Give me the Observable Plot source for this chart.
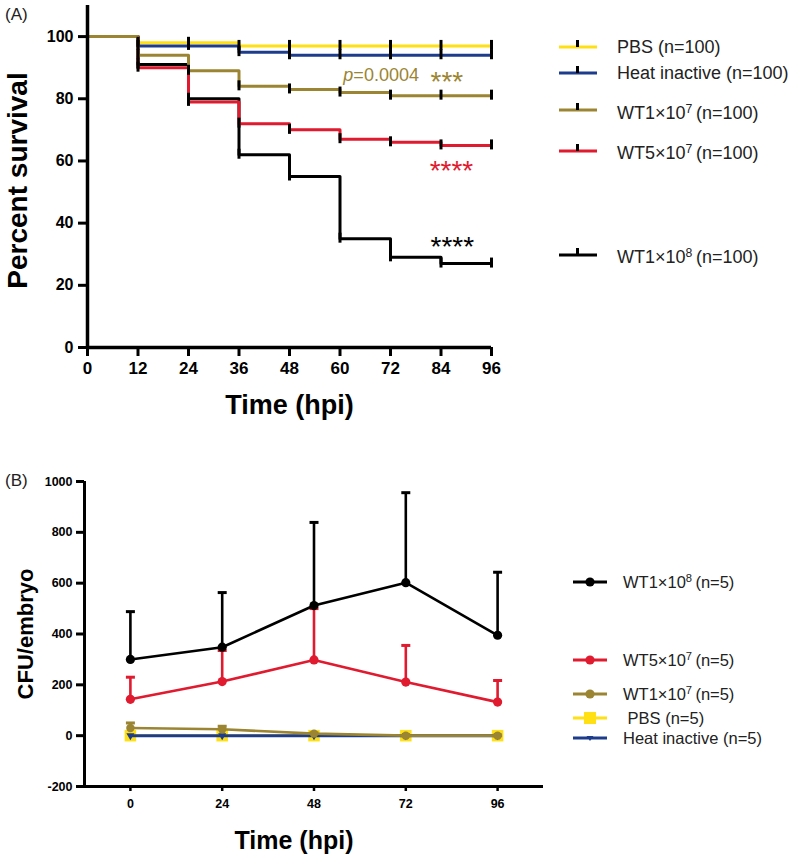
<!DOCTYPE html>
<html><head><meta charset="utf-8">
<script src="https://cdn.jsdelivr.net/npm/d3@7"></script>
<script src="https://cdn.jsdelivr.net/npm/@observablehq/plot@0.6"></script>
<style>
body{margin:0;background:#fff;}
#root{position:relative;width:794px;height:859px;overflow:hidden;font-family:"Liberation Sans",Arial,sans-serif;}
.txt{position:absolute;white-space:nowrap;color:#222;}
.sup{font-size:0.68em;position:relative;top:-0.5em;}
</style></head><body><div id="root"></div>
<script>
// ---------- Panel A data: Kaplan-Meier survival (percent) ----------
const hoursA = [0, 12, 24, 36, 48, 60, 72, 84, 96];
const seriesA = ["PBS", "Heat inactive", "WT1e8", "WT5e7", "WT1e7"];   // drawing order
const pbsA    = [100, 98, 98, 97, 97, 97, 97, 97, 97];
const heatA   = [100, 97, 97, 95, 94, 94, 94, 94, 94];
const wt1e8A  = [100, 91, 80, 62, 55, 35, 29, 27, 27];
const wt5e7A  = [100, 90, 79, 72, 70, 67, 66, 65, 65];
const wt1e7A  = [100, 94, 89, 84, 83, 82, 81, 81, 81];
const yTicksA = [0, 20, 40, 60, 80, 100];
const xDomainA = [0, 96];
const yDomainA = [0, 110];

// ---------- Panel B data: CFU/embryo mean and upper SD ----------
const hoursB = [0, 24, 48, 72, 96];
const seriesB = ["PBS", "Heat inactive", "WT1e7", "WT5e7", "WT1e8"];   // drawing order
const pbsB     = [0, 0, 0, 0, 0];
const pbsSdB   = [0, 0, 0, 0, 0];
const heatB    = [0, 0, 0, 0, 0];
const heatSdB  = [0, 0, 0, 0, 0];
const wt1e7B   = [30, 25, 8, 0, 0];
const wt1e7SdB = [20, 12, 3, 0, 0];
const wt5e7B   = [143, 213, 298, 211, 132];
const wt5e7SdB = [87, 122, 202, 144, 85];
const wt1e8B   = [300, 348, 512, 602, 395];
const wt1e8SdB = [188, 215, 327, 354, 248];
const yTicksB = [-200, 0, 200, 400, 600, 800, 1000];
const xDomainB = [-12, 108];
const yDomainB = [-200, 1000];

// ---------- Legend labels ----------
const legendKeysA = ["PBS", "Heat inactive", "WT1e7", "WT5e7", "WT1e8"];
const legendLabelsA = ["PBS (n=100)", "Heat inactive (n=100)", "WT1×10<span class='sup'>7</span>&thinsp;(n=100)", "WT5×10<span class='sup'>7</span>&thinsp;(n=100)", "WT1×10<span class='sup'>8</span>&thinsp;(n=100)"];
const legendKeysB = ["WT1e8", "WT5e7", "WT1e7", "PBS", "Heat inactive"];
const legendLabelsB = ["WT1×10<span class='sup'>8</span>&thinsp;(n=5)", "WT5×10<span class='sup'>7</span>&thinsp;(n=5)", "WT1×10<span class='sup'>7</span>&thinsp;(n=5)", "&nbsp;PBS (n=5)", "Heat inactive (n=5)"];

// ---------- styles ----------
const colors = {"PBS": "#FFE014", "Heat inactive": "#1E3C8C", "WT1e7": "#9B8532", "WT5e7": "#E01A2F", "WT1e8": "#000000"};
const FONT = "'Liberation Sans', Arial, sans-serif";

const valuesA = {"PBS": pbsA, "Heat inactive": heatA, "WT1e8": wt1e8A, "WT5e7": wt5e7A, "WT1e7": wt1e7A};
const rowsA = seriesA.flatMap(s => hoursA.map((t, i) => ({series: s, t, v: valuesA[s][i]})));

const valuesB = {"PBS": [pbsB, pbsSdB], "Heat inactive": [heatB, heatSdB], "WT1e7": [wt1e7B, wt1e7SdB], "WT5e7": [wt5e7B, wt5e7SdB], "WT1e8": [wt1e8B, wt1e8SdB]};
const rowsB = seriesB.flatMap(s => hoursB.map((t, i) => ({series: s, t, m: valuesB[s][0][i], hi: valuesB[s][0][i] + valuesB[s][1][i]})));

const vbar = {draw(ctx, size) { const h = Math.sqrt(size / Math.PI); ctx.moveTo(0, -h); ctx.lineTo(0, h); }};
const hbar = {draw(ctx, size) { const w = Math.sqrt(size / Math.PI); ctx.moveTo(-w, 0); ctx.lineTo(w, 0); }};

const root = document.getElementById("root");
function place(el, left, top) { el.style.position = "absolute"; el.style.left = left + "px"; el.style.top = top + "px"; root.appendChild(el); return el; }

// ---------- Panel letters (behind plots) ----------
const la = document.createElement("div"); la.className = "txt"; la.style.fontSize = "17px"; la.textContent = "(A)"; place(la, 5, 5);
const lb = document.createElement("div"); lb.className = "txt"; lb.style.fontSize = "17px"; lb.textContent = "(B)"; place(lb, 5, 471);

// ---------- Panel A ----------
const colorScale = {domain: Object.keys(colors), range: Object.values(colors)};
const plotA = Plot.plot({
  width: 540, height: 440,
  marginLeft: 87, marginRight: 49, marginTop: 5, marginBottom: 93,
  style: {fontFamily: FONT, background: "transparent", overflow: "visible", color: "#000"},
  x: {domain: xDomainA},
  y: {domain: yDomainA},
  color: colorScale,
  marks: [
    Plot.line(rowsA, {x: "t", y: "v", z: "series", stroke: "series", curve: "step-after", strokeWidth: 3}),
    Plot.dot(rowsA.filter(d => d.t > 0), {x: "t", y: "v", symbol: vbar, r: 5, dy: -1, stroke: "#000", fill: "none", strokeWidth: 3}),
    Plot.ruleX([xDomainA[0]], {y1: yDomainA[0], y2: yDomainA[1], strokeWidth: 3.5}),
    Plot.ruleY([yDomainA[0]], {x1: xDomainA[0], x2: xDomainA[1], strokeWidth: 3.5}),
    Plot.axisY({ticks: yTicksA, tickSize: 9, tickPadding: 5, fontSize: 16, fontWeight: "bold", strokeWidth: 3, label: null}),
    Plot.axisX({ticks: hoursA, tickSize: 9, tickPadding: 5, fontSize: 17, fontWeight: "bold", strokeWidth: 3, label: null}),
    Plot.text(["Percent survival"], {text: d => d, frameAnchor: "left", textAnchor: "middle", dx: -69, dy: 4, rotate: -90, fontSize: 28, fontWeight: "bold"}),
    Plot.text(["Time (hpi)"], {text: d => d, frameAnchor: "bottom", dy: 66, fontSize: 27, fontWeight: "bold"}),
    Plot.text(["p"], {text: d => d, x: 60.8, y: 87.5, textAnchor: "start", fontStyle: "italic", fontSize: 18, fill: colors["WT1e7"]}),
    Plot.text(["=0.0004"], {text: d => d, x: 60.8, y: 87.5, dx: 10, textAnchor: "start", fontSize: 18, fill: colors["WT1e7"]}),
    Plot.text(["***"], {text: d => d, x: 81.5, y: 87.5, dy: 7, textAnchor: "start", fontSize: 28, fill: colors["WT1e7"]}),
    Plot.text(["****"], {text: d => d, x: 81.3, y: 59, dy: 7, textAnchor: "start", fontSize: 28, fill: colors["WT5e7"]}),
    Plot.text(["****"], {text: d => d, x: 81.5, y: 34.5, dy: 7, textAnchor: "start", fontSize: 28, fill: colors["WT1e8"]})
  ]
});
place(plotA, 0, 0);

// ---------- Panel B ----------
const symbolsB = {"PBS": "square", "Heat inactive": "triangle", "WT1e7": "circle", "WT5e7": "circle", "WT1e8": "circle"};
const radiusB = {"PBS": 6.5, "Heat inactive": 3, "WT1e7": 4.2, "WT5e7": 4.6, "WT1e8": 4.6};
const marksB = [];
for (const s of seriesB) {
  const d = rowsB.filter(r => r.series === s);
  const c = colors[s];
  const sw = s === "Heat inactive" ? 3 : 2.6;
  if (s !== "PBS" && s !== "Heat inactive") {
    marksB.push(Plot.ruleX(d, {x: "t", y1: "m", y2: "hi", stroke: c, strokeWidth: 2.6}));
    marksB.push(Plot.dot(d, {x: "t", y: "hi", symbol: hbar, r: 4.5, stroke: c, fill: "none", strokeWidth: 3}));
  }
  marksB.push(Plot.line(d, {x: "t", y: "m", stroke: c, strokeWidth: sw}));
  marksB.push(Plot.dot(d, {x: "t", y: "m", symbol: symbolsB[s], r: radiusB[s], fill: c, stroke: "none", rotate: s === "Heat inactive" ? 180 : 0}));
}
const plotB = Plot.plot({
  width: 560, height: 409,
  marginLeft: 84, marginRight: 17, marginTop: 31, marginBottom: 73,
  style: {fontFamily: FONT, background: "transparent", overflow: "visible", color: "#000"},
  x: {domain: xDomainB},
  y: {domain: yDomainB},
  marks: [
    ...marksB,
    Plot.ruleX([xDomainB[0]], {y1: yDomainB[0], y2: yDomainB[1], strokeWidth: 3}),
    Plot.ruleY([yDomainB[0]], {x1: xDomainB[0], x2: xDomainB[1], strokeWidth: 3}),
    Plot.axisY({ticks: yTicksB, tickFormat: d => String(d), tickSize: 8, tickPadding: 4, fontSize: 12.5, fontWeight: "bold", strokeWidth: 3, label: null}),
    Plot.axisX({ticks: hoursB, tickFormat: d => String(d), tickSize: 5, tickPadding: 8, fontSize: 12.5, fontWeight: "bold", strokeWidth: 2.5, label: null}),
    Plot.text(["CFU/embryo"], {text: d => d, frameAnchor: "left", textAnchor: "middle", dx: -59, rotate: -90, fontSize: 22, fontWeight: "bold"}),
    Plot.text(["Time (hpi)"], {text: d => d, frameAnchor: "bottom", dx: -20, dy: 62, fontSize: 25, fontWeight: "bold"})
  ]
});
place(plotB, 0, 450);

// ---------- Legends ----------
const NS = "http://www.w3.org/2000/svg";
function svgEl(tag, attrs) { const e = document.createElementNS(NS, tag); for (const k in attrs) e.setAttribute(k, attrs[k]); return e; }

const legendLineYA = [46.7, 73, 110, 150.7, 255];
const legendTextYA = [46.7, 73, 113, 153, 257];
legendKeysA.forEach((k, i) => {
  const s = svgEl("svg", {width: 40, height: 20});
  s.appendChild(svgEl("line", {x1: 1, x2: 39, y1: 10, y2: 10, stroke: colors[k], "stroke-width": 3}));
  s.appendChild(svgEl("line", {x1: 19.5, x2: 19.5, y1: 3, y2: 10, stroke: "#000", "stroke-width": 3}));
  place(s, 558, legendLineYA[i] - 10);
  const t = document.createElement("div"); t.className = "txt"; t.style.fontSize = "18px"; t.style.lineHeight = "20px";
  t.innerHTML = legendLabelsA[i];
  place(t, 617, legendTextYA[i] - 10);
});

const legendYB = [581.7, 660, 694, 718.3, 738.3];
legendKeysB.forEach((k, i) => {
  const s = svgEl("svg", {width: 38, height: 16});
  s.appendChild(svgEl("line", {x1: 1, x2: 35, y1: 8, y2: 8, stroke: colors[k], "stroke-width": 3}));
  if (k === "PBS") s.appendChild(svgEl("rect", {x: 12, y: 2, width: 12, height: 12, fill: colors[k]}));
  else if (k === "Heat inactive") s.appendChild(svgEl("path", {d: "M14.5,6 L21.5,6 L18,11 Z", fill: colors[k]}));
  else s.appendChild(svgEl("circle", {cx: 18, cy: 8, r: 4.6, fill: colors[k]}));
  place(s, 572, legendYB[i] - 8);
  const t = document.createElement("div"); t.className = "txt"; t.style.fontSize = "16.5px"; t.style.lineHeight = "20px";
  t.innerHTML = legendLabelsB[i];
  place(t, 623, legendYB[i] - 10);
});
</script>
</body></html>
